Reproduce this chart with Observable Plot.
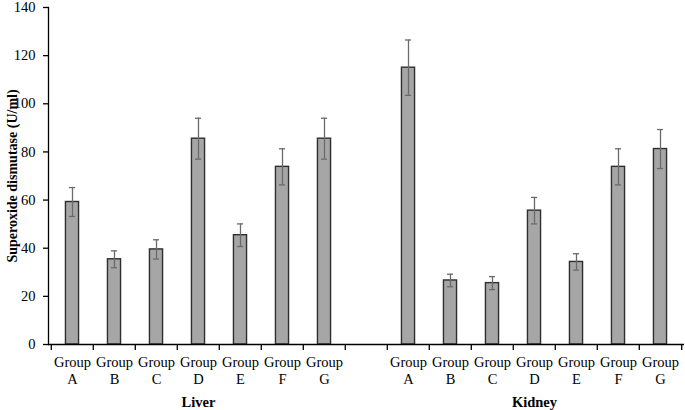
<!DOCTYPE html>
<html>
<head>
<meta charset="utf-8">
<script src="https://cdn.jsdelivr.net/npm/d3@7"></script>
<script src="https://cdn.jsdelivr.net/npm/@observablehq/plot@0.6"></script>
<style>
  html, body { margin: 0; padding: 0; background: #fff; }
  svg, svg text { font-family: "Liberation Serif", "Times New Roman", serif !important; }
</style>
</head>
<body>
<div id="chart"></div>
<script>
const groups = ["A", "B", "C", "D", "E", "F", "G"];
const liverValues = [59.2, 35.4, 39.5, 85.5, 45.4, 73.8, 85.5];
const liverErrors = [6.0, 3.5, 4.0, 8.5, 4.7, 7.5, 8.5];
const kidneyValues = [115.0, 26.6, 25.5, 55.6, 34.3, 73.8, 81.2];
const kidneyErrors = [11.5, 2.6, 2.7, 5.5, 3.4, 7.5, 8.1];
const organs = ["Liver", "Kidney"];
const yTicks = [0, 20, 40, 60, 80, 100, 120, 140];
const yLabel = "Superoxide dismutase (U/ml)";

const rows = [];
groups.forEach((g, i) => rows.push({key: "Liver " + g, organ: "Liver", group: g, value: liverValues[i], err: liverErrors[i]}));
const gapKey = "gap";
groups.forEach((g, i) => rows.push({key: "Kidney " + g, organ: "Kidney", group: g, value: kidneyValues[i], err: kidneyErrors[i]}));
const domain = [...groups.map(g => "Liver " + g), gapKey, ...groups.map(g => "Kidney " + g)];

const W = 685, H = 410, mL = 48, mR = 1, mT = 7, mB = 66;
const bw = (W - mL - mR) / domain.length;
const barInset = (bw - 13.5) / 2;
const capInset = (bw - 6.5) / 2;
const serif = "Liberation Serif";

const chart = Plot.plot({
  width: W,
  height: H,
  marginLeft: mL,
  marginRight: mR,
  marginTop: mT,
  marginBottom: mB,
  style: {fontFamily: serif, fontSize: "14px", color: "#000", background: "#fff", overflow: "visible"},
  x: {type: "band", domain, paddingInner: 0, paddingOuter: 0, axis: null},
  y: {domain: [0, 140], axis: null},
  marks: [
    Plot.rectY(rows, {x: "key", y: "value", fill: "#a6a6a6", stroke: "#2e2e2e", strokeWidth: 1.4, insetLeft: barInset, insetRight: barInset}),
    Plot.ruleX(rows, {x: "key", y1: d => d.value - d.err, y2: d => d.value + d.err, stroke: "#6a6a6a", strokeWidth: 1.3}),
    Plot.tickY(rows, {x: "key", y: d => d.value + d.err, stroke: "#6a6a6a", strokeWidth: 1.3, insetLeft: capInset, insetRight: capInset}),
    Plot.tickY(rows, {x: "key", y: d => d.value - d.err, stroke: "#6a6a6a", strokeWidth: 1.3, insetLeft: capInset, insetRight: capInset}),
    Plot.frame({anchor: "left", stroke: "#000", strokeWidth: 1.3}),
    Plot.ruleY([0], {stroke: "#000", strokeWidth: 1.3}),
    Plot.axisY({ticks: yTicks, tickSize: 5, tickPadding: 8, label: null, fontSize: 14.5, fontFamily: serif, stroke: "#000", strokeWidth: 1.3}),
    Plot.axisX({ticks: domain, tickSize: 6, tickFormat: () => "", dx: -bw / 2, label: null, stroke: "#000", strokeWidth: 1.3}),
    Plot.axisX({ticks: [domain[domain.length - 1]], tickSize: 6, tickFormat: () => "", dx: bw / 2, label: null, stroke: "#000", strokeWidth: 1.3}),
    Plot.text(rows, {x: "key", y: 0, text: d => "Group\n" + d.group, lineAnchor: "top", dy: 11, lineHeight: 1.15, fontSize: 14.5, fontFamily: serif, fill: "#000"}),
    Plot.text(organs, {x: d => d + " D", y: 0, text: d => d, lineAnchor: "middle", dy: 58, fontSize: 14.5, fontFamily: serif, fontWeight: "bold", fill: "#000"}),
    Plot.text([yLabel], {frameAnchor: "left", text: d => d, rotate: -90, textAnchor: "middle", dx: -36, fontSize: 14, fontFamily: serif, fontWeight: "bold", fill: "#000"})
  ]
});
document.getElementById("chart").appendChild(chart);
</script>
</body>
</html>
